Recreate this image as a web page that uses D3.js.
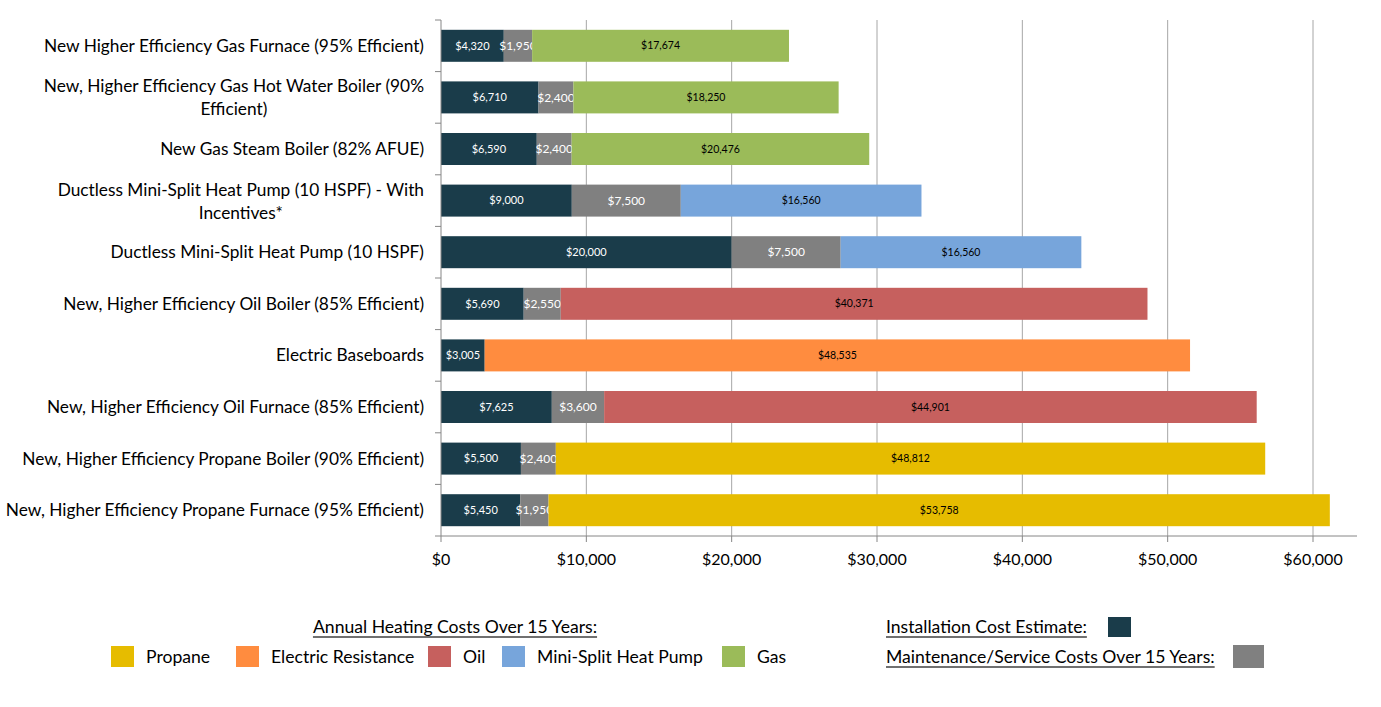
<!DOCTYPE html>
<html><head><meta charset="utf-8">
<script src="https://cdn.jsdelivr.net/npm/d3@7"></script>
<style>body{margin:0;background:#fff;} text{font-family:Lato,"Open Sans",sans-serif;}</style>
</head><body><svg id="c" width="1381" height="707"></svg>
<script>
const categories = [
  "New Higher Efficiency Gas Furnace (95% Efficient)",
  "New, Higher Efficiency Gas Hot Water Boiler (90%|Efficient)",
  "New Gas Steam Boiler (82% AFUE)",
  "Ductless Mini-Split Heat Pump (10 HSPF) - With|Incentives*",
  "Ductless Mini-Split Heat Pump (10 HSPF)",
  "New, Higher Efficiency Oil Boiler (85% Efficient)",
  "Electric Baseboards",
  "New, Higher Efficiency Oil Furnace (85% Efficient)",
  "New, Higher Efficiency Propane Boiler (90% Efficient)",
  "New, Higher Efficiency Propane Furnace (95% Efficient)"
];
const installCost = [4320, 6710, 6590, 9000, 20000, 5690, 3005, 7625, 5500, 5450];
const maintenanceCost = [1950, 2400, 2400, 7500, 7500, 2550, 0, 3600, 2400, 1950];
const heatingCost = [17674, 18250, 20476, 16560, 16560, 40371, 48535, 44901, 48812, 53758];
const heatingFuel = ["Gas","Gas","Gas","Mini-Split Heat Pump","Mini-Split Heat Pump","Oil","Electric Resistance","Oil","Propane","Propane"];
const fuelLegend = ["Propane","Electric Resistance","Oil","Mini-Split Heat Pump","Gas"];
const xTicks = [0,10000,20000,30000,40000,50000,60000];

const fuelColor = d3.scaleOrdinal().domain(fuelLegend).range(["#E6BC00","#FF8C3F","#C6605E","#77A5DB","#9BBB59"]);
const installColor = "#1A3C4A", maintColor = "#808080";

const svg = d3.select("#c");
const m = {l:441, r:1357, t:20, b:536};
const x = d3.scaleLinear().domain([0,63000]).range([m.l, m.l + 63000*(1313-441)/60000]);
const y = d3.scaleBand().domain(categories).range([m.t, m.b]).paddingInner(0.38).paddingOuter(0.19);

// gridlines
svg.append("g").selectAll("line").data(xTicks.slice(1)).join("line")
  .attr("x1", d=>x(d)).attr("x2", d=>x(d)).attr("y1", m.t).attr("y2", m.b)
  .attr("stroke","#A6A6A6").attr("stroke-width",1);

// bars
const rows = categories.map((c,i)=>({c, segs:[
  {v:installCost[i], s:0, col:installColor, tc:"#fff", fs:11},
  {v:maintenanceCost[i], s:installCost[i], col:maintColor, tc:"#fff", fs:12},
  {v:heatingCost[i], s:installCost[i]+maintenanceCost[i], col:fuelColor(heatingFuel[i]), tc:"#000", fs:10.5}
]}));
const g = svg.append("g");
rows.forEach(r=>{
  r.segs.forEach(s=>{
    if(!s.v) return;
    g.append("rect").attr("x", x(s.s)).attr("y", y(r.c)).attr("width", x(s.s+s.v)-x(s.s)).attr("height", y.bandwidth()).attr("fill", s.col);
    g.append("text").attr("x", (x(s.s)+x(s.s+s.v))/2).attr("y", y(r.c)+y.bandwidth()/2).attr("dy","0.35em")
      .attr("text-anchor","middle").attr("fill", s.tc).attr("font-size", s.fs)
      .text("$"+d3.format(",")(s.v));
  });
});

// y axis
svg.append("line").attr("x1",m.l).attr("x2",m.l).attr("y1",m.t).attr("y2",m.b).attr("stroke","#868686");
const bounds = d3.range(categories.length+1).map(i=>m.t + i*(m.b-m.t)/categories.length);
svg.append("g").selectAll("line").data(bounds).join("line")
  .attr("x1",m.l-6).attr("x2",m.l).attr("y1",d=>d).attr("y2",d=>d).attr("stroke","#868686");
const catFs = 17.3;
categories.forEach(c=>{
  const parts = c.split("|");
  const cy = y(c)+y.bandwidth()/2;
  const t = svg.append("text").attr("font-size",catFs).attr("fill","#000");
  if(parts.length===1){
    t.attr("x",424).attr("y",cy).attr("dy","0.35em").attr("text-anchor","end").text(parts[0]);
  } else {
    const t1 = t.attr("x",424).attr("y",cy-11).attr("dy","0.35em").attr("text-anchor","end").text(parts[0]);
    const w = t1.node().getComputedTextLength();
    svg.append("text").attr("font-size",catFs).attr("x",424-w/2).attr("y",cy+12).attr("dy","0.35em").attr("text-anchor","middle").text(parts[1]);
  }
});

// x axis
svg.append("line").attr("x1",m.l).attr("x2",m.r).attr("y1",m.b).attr("y2",m.b).attr("stroke","#868686");
svg.append("g").selectAll("line").data(xTicks).join("line")
  .attr("x1",d=>x(d)).attr("x2",d=>x(d)).attr("y1",m.b).attr("y2",m.b+6).attr("stroke","#868686");
svg.append("g").selectAll("text").data(xTicks).join("text")
  .attr("x",d=>x(d)).attr("y",559).attr("dy","0.35em").attr("text-anchor","middle").attr("font-size",16)
  .text(d=>"$"+d3.format(",")(d));

// legend
const legFs = 17.6;
function uText(xp, yp, txt, anchor){
  const t = svg.append("text").attr("x",xp).attr("y",yp).attr("font-size",legFs).attr("text-anchor",anchor||"start").text(txt);
  const bb = t.node().getBBox();
  svg.append("line").attr("x1",bb.x).attr("x2",bb.x+bb.width).attr("y1",yp+4).attr("y2",yp+4).attr("stroke","#404040").attr("stroke-width",1.5);
}
uText(455, 633, "Annual Heating Costs Over 15 Years:", "middle");
const legX = [111, 236, 428, 502, 722];
fuelLegend.forEach((f,i)=>{
  svg.append("rect").attr("x",legX[i]).attr("y",646).attr("width",23).attr("height",21).attr("fill",fuelColor(f));
  svg.append("text").attr("x",legX[i]+35).attr("y",657).attr("dy","0.35em").attr("font-size",legFs).text(f);
});
uText(886, 633, "Installation Cost Estimate:");
svg.append("rect").attr("x",1108).attr("y",617).attr("width",23).attr("height",20).attr("fill",installColor);
uText(886, 663, "Maintenance/Service Costs Over 15 Years:");
svg.append("rect").attr("x",1233).attr("y",645).attr("width",31).attr("height",23).attr("fill",maintColor);
</script></body></html>
